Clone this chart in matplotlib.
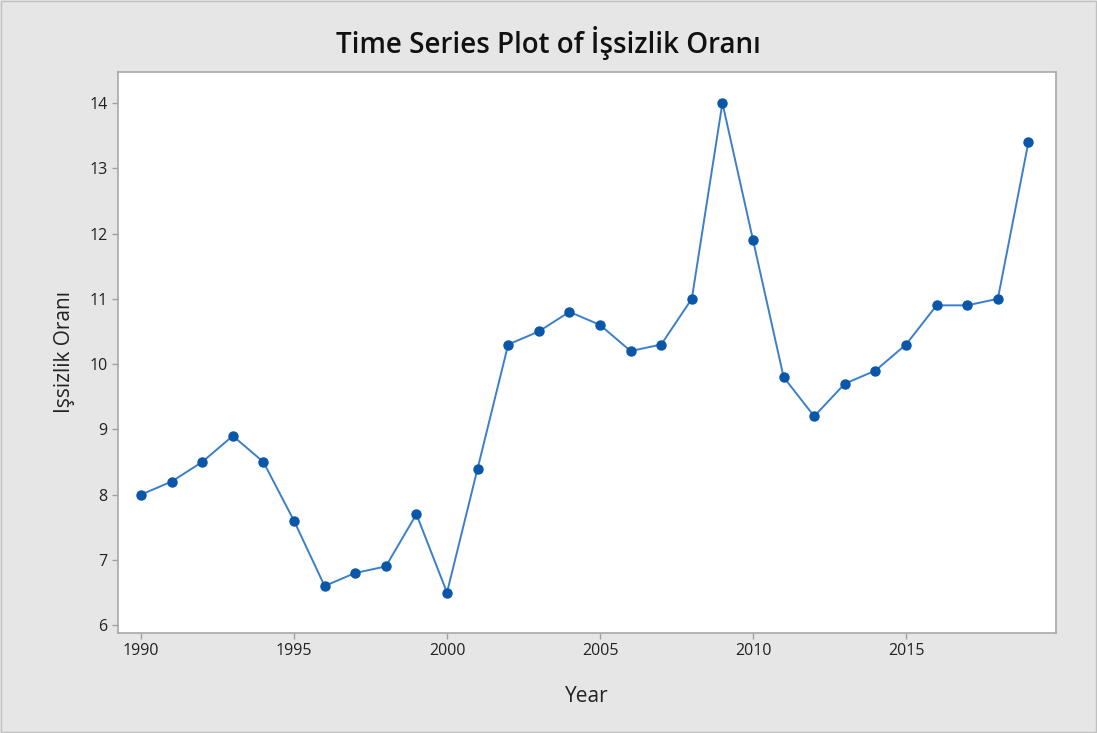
import matplotlib.pyplot as plt

# data
years = list(range(1990, 2020))
issizlik = [8.0, 8.2, 8.5, 8.9, 8.5, 7.6, 6.6, 6.8, 6.9, 7.7,
            6.5, 8.4, 10.3, 10.5, 10.8, 10.6, 10.2, 10.3, 11.0, 14.0,
            11.9, 9.8, 9.2, 9.7, 9.9, 10.3, 10.9, 10.9, 11.0, 13.4]
x_ticks = [1990, 1995, 2000, 2005, 2010, 2015]
y_ticks = [6, 7, 8, 9, 10, 11, 12, 13, 14]

plt.rcParams['font.family'] = ['Open Sans', 'DejaVu Sans']

fig = plt.figure(figsize=(10.97, 7.33), dpi=100, facecolor='#e6e6e6')
ax = fig.add_axes([0.1076, 0.1364, 0.855, 0.7654])
ax.set_facecolor('white')

ax.plot(years, issizlik, color='#3b7fcb', linewidth=1.4,
        marker='o', markersize=6.5, markerfacecolor='#0a56a8', markeredgecolor='#0a56a8')

ax.set_xlim(1989.25, 2019.9)
ax.set_ylim(5.88, 14.475)
ax.set_xticks(x_ticks)
ax.set_yticks(y_ticks)
ax.tick_params(colors='#a0a0a0', labelcolor='#222222', labelsize=11.5, length=4, width=1)

for s in ax.spines.values():
    s.set_color('#a8a8a8')
    s.set_linewidth(1.2)

ax.set_xlabel('Year', fontsize=15, color='#222222', labelpad=19)
ax.set_ylabel('Işsizlik Oranı', fontsize=15, color='#222222', labelpad=10)
fig.text(0.5, 0.942, 'Time Series Plot of İşsizlik Oranı', ha='center', va='center',
         fontsize=20, fontweight='semibold', color='#111111')

# thin outer frame
fig.patches.append(plt.Rectangle((0.001, 0.001), 0.998, 0.998, transform=fig.transFigure,
                                 fill=False, edgecolor='#c0c0c0', linewidth=1))

fig.savefig('out.png', dpi=100, facecolor=fig.get_facecolor())
